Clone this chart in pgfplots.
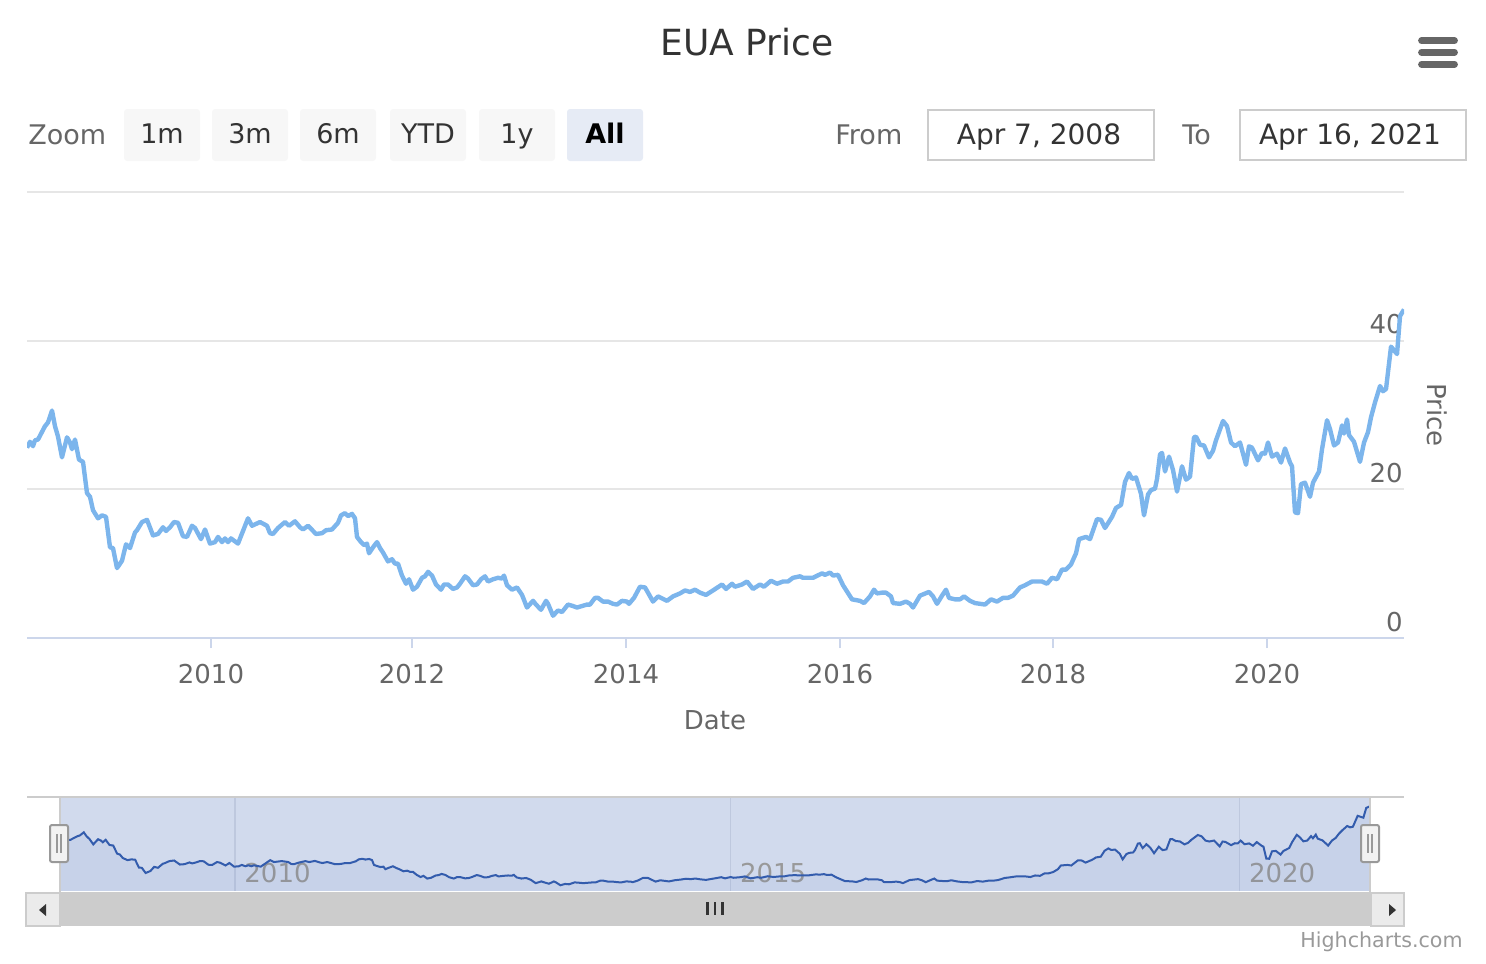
\documentclass[border=0pt]{standalone}
\usepackage{pgfplots}
\pgfplotsset{compat=1.18}
\usepackage{pgfplotstable}
\usepackage{fontspec}
\setmainfont{DejaVu Sans}
\definecolor{hcline}{HTML}{7CB5EC}
\definecolor{hcgrid}{HTML}{E6E6E6}
\definecolor{hcaxis}{HTML}{CCD6EB}
\definecolor{hctext}{HTML}{666666}
\definecolor{hcdark}{HTML}{333333}
\definecolor{navmask}{RGB}{209,218,237}
\definecolor{navline}{HTML}{335CAD}
\definecolor{navgrid}{RGB}{190,200,222}
\definecolor{btn}{HTML}{F7F7F7}
\definecolor{btnsel}{HTML}{E6EBF5}
\definecolor{brd}{HTML}{CCCCCC}
\definecolor{scrollbtn}{HTML}{EBEBEB}
\definecolor{scrolltrack}{HTML}{F2F2F2}
\definecolor{credit}{HTML}{999999}

\pgfplotstableread{
x y
27 25.6
30 26.4
33 25.8
35 26.6
38 26.7
45 28.5
48 29.0
52 30.6
55 28.5
58 27.1
62 24.3
67 27.0
70 26.3
72 25.4
75 26.7
79 24.0
83 23.7
87 19.5
90 19.0
93 17.2
98 16.1
102 16.5
106 16.3
110 12.2
113 12.1
117 9.4
122 10.4
126 12.6
130 12.1
135 14.2
137 14.5
142 15.6
147 15.9
153 13.8
158 14.0
163 14.9
166 14.4
170 14.9
174 15.6
178 15.5
183 13.7
187 13.6
192 15.1
195 14.8
201 13.3
205 14.6
210 12.7
215 12.9
218 13.6
222 12.9
225 13.4
228 12.9
231 13.4
238 12.7
248 16.1
252 15.1
260 15.6
267 15.1
270 14.1
273 14.0
278 14.8
285 15.6
289 15.1
295 15.7
300 14.9
303 14.6
308 15.1
316 14.0
322 14.1
326 14.5
332 14.6
338 15.5
341 16.5
345 16.8
348 16.4
352 16.7
355 16.1
357 13.6
361 12.9
364 12.5
367 12.7
369 11.4
373 12.2
377 12.9
380 12.1
383 11.5
388 10.3
392 10.6
395 10.0
398 10.0
402 8.4
406 7.3
409 7.9
413 6.5
417 6.9
422 8.1
425 8.3
428 8.9
432 8.4
436 7.2
441 6.5
444 7.2
448 7.2
453 6.6
457 6.8
460 7.3
465 8.3
468 8.0
473 7.1
477 7.2
481 7.9
485 8.3
488 7.6
493 7.9
498 8.1
502 8.0
504 8.4
507 7.1
512 6.5
517 6.8
522 5.8
527 4.1
533 5.0
536 4.5
541 3.8
546 5.0
548 4.6
553 3.0
558 3.7
562 3.5
568 4.5
573 4.3
577 4.1
582 4.3
587 4.5
590 4.5
595 5.4
598 5.4
603 4.9
608 4.9
613 4.6
617 4.5
622 5.0
627 4.9
629 4.6
634 5.4
640 6.9
645 6.8
648 6.1
653 4.9
658 5.6
667 5.0
673 5.6
680 6.0
685 6.4
690 6.2
695 6.5
700 6.1
706 5.8
713 6.4
722 7.2
726 6.6
732 7.3
735 6.9
742 7.2
747 7.6
753 6.6
760 7.2
764 6.9
771 7.7
777 7.3
783 7.6
788 7.6
793 8.1
800 8.3
803 8.1
808 8.1
813 8.1
822 8.7
825 8.5
830 8.8
833 8.4
838 8.5
843 7.1
852 5.2
860 5.0
864 4.7
870 5.6
874 6.5
877 6.0
882 6.1
886 6.1
891 5.6
893 4.7
900 4.6
906 4.9
910 4.6
913 4.1
920 5.7
929 6.2
933 5.6
937 4.6
942 5.7
946 6.5
949 5.4
955 5.2
960 5.2
964 5.6
970 5.0
975 4.7
980 4.6
985 4.5
991 5.2
997 4.9
1003 5.4
1008 5.4
1013 5.7
1020 6.8
1025 7.1
1032 7.6
1037 7.6
1042 7.6
1047 7.3
1052 8.1
1055 8.0
1057 7.9
1062 9.2
1066 9.2
1071 9.9
1076 11.4
1079 13.3
1086 13.6
1090 13.3
1097 16.0
1101 15.9
1105 14.8
1112 16.3
1116 17.5
1121 17.9
1125 21.0
1129 22.2
1132 21.4
1136 21.6
1141 19.4
1144 16.5
1148 19.3
1151 19.9
1155 20.1
1157 21.4
1160 24.7
1162 24.9
1165 22.4
1169 24.4
1173 22.6
1177 19.7
1182 23.1
1186 21.3
1190 21.7
1194 27.0
1196 27.1
1200 26.0
1204 25.9
1209 24.3
1213 25.2
1216 26.6
1223 29.2
1227 28.5
1231 26.3
1235 25.8
1240 26.3
1246 23.3
1249 25.8
1252 25.6
1258 23.9
1262 24.9
1265 24.8
1268 26.3
1272 24.4
1277 24.8
1281 23.6
1285 25.5
1290 23.6
1292 23.1
1295 16.9
1298 16.8
1301 20.7
1305 20.9
1310 19.0
1313 20.9
1319 22.4
1322 25.4
1327 29.3
1330 28.1
1334 25.9
1338 26.3
1342 28.6
1344 27.5
1347 29.4
1349 27.3
1354 26.4
1360 23.7
1364 26.3
1368 27.7
1371 29.7
1375 31.7
1380 33.9
1383 33.2
1386 33.5
1391 39.2
1397 38.2
1400 43.3
1404 44.2
}\euadata

\begin{document}
\begin{tikzpicture}[x=0.5pt,y=-0.5pt]
\path (0,0) rectangle (1486,963);
\coordinate (mainSW) at (27,638);
\coordinate (navSW) at (60,891);
% title
\node[anchor=base, inner sep=0pt, font=\fontsize{18}{21}\selectfont, text=hcdark] at (747,56) {EUA Price};
% menu icon
\foreach \yy in {40.7,52.3,64.3}
  \draw[hctext, line width=3.4pt, line cap=round] (1421.5,\yy) -- (1454.5,\yy);
% range selector
\node[anchor=base west, inner sep=0pt, font=\fontsize{13.5}{16}\selectfont, text=hctext] at (28,144) {Zoom};
\foreach \xa/\lab in {124/1m,212/3m,300/6m,390/YTD,479/1y} {
  \fill[btn, rounded corners=1.5pt] (\xa,109) rectangle ++(76,52);
  \node[anchor=base, inner sep=0pt, font=\fontsize{13.5}{16}\selectfont, text=hcdark] at (\xa+38,143.5) {\lab};
}
\fill[btnsel, rounded corners=1.5pt] (567,109) rectangle ++(76,52);
\node[anchor=base, inner sep=0pt, font=\fontsize{13.5}{16}\selectfont\bfseries, text=black] at (605,143.5) {All};
\node[anchor=base west, inner sep=0pt, font=\fontsize{13.5}{16}\selectfont, text=hctext] at (835,144) {From};
\draw[brd, line width=1pt, fill=white] (928,110) rectangle (1154,160);
\node[anchor=base, inner sep=0pt, font=\fontsize{14}{16}\selectfont, text=hcdark] at (1039,144) {Apr 7, 2008};
\node[anchor=base west, inner sep=0pt, font=\fontsize{13.5}{16}\selectfont, text=hctext] at (1182,144) {To};
\draw[brd, line width=1pt, fill=white] (1240,110) rectangle (1466,160);
\node[anchor=base, inner sep=0pt, font=\fontsize{14}{16}\selectfont, text=hcdark] at (1350,144) {Apr 16, 2021};

% main chart
\begin{axis}[at={(mainSW)}, anchor=south west, scale only axis,
  width=688.5pt, height=223pt,
  xmin=27, xmax=1404, ymin=0, ymax=60,
  axis x line*=bottom, axis y line*=right,
  x axis line style={hcaxis, line width=1pt, -},
  y axis line style={draw=none},
  xtick={211,412,626,840,1053,1267},
  xticklabels={2010,2012,2014,2016,2018,2020},
  ytick={0,20,40,60}, yticklabels={0,20,40,{}},
  ymajorgrids, grid style={hcgrid, line width=1pt},
  xtick align=outside, major tick length=5pt,
  x tick style={hcaxis, line width=1pt},
  y tick style={draw=none},
  tick label style={font=\fontsize{13}{15}\selectfont, text=hctext},
  xticklabel style={anchor=base, inner sep=0pt, yshift=-17.5pt},
  yticklabel style={anchor=south east, inner sep=0pt, yshift=3pt, xshift=-0.5pt},
  /pgf/number format/assume math mode=true,
]
\addplot[hcline, line width=2.2pt, line join=round] table[x=x,y=y] {\euadata};
\end{axis}
\node[anchor=base, inner sep=0pt, font=\fontsize{13}{15}\selectfont, text=hctext] at (715,729) {Date};
\node[rotate=-90, inner sep=0pt, font=\fontsize{13}{15}\selectfont, text=hctext] at (1437,415) {Price};

% navigator
\begin{axis}[at={(navSW)}, anchor=south west, scale only axis,
  width=655pt, height=47pt,
  xmin=27, xmax=1404, ymin=0, ymax=49,
  axis line style={draw=none},
  axis background/.style={fill=navmask},
  xtick={211,732,1267}, xticklabels={2010,2015,2020},
  ytick=\empty, xmajorgrids, grid style={navgrid, line width=0.6pt},
  major tick length=0pt,
  xticklabel style={anchor=base west, inner sep=0pt, font=\fontsize{13}{15}\selectfont, text=credit, xshift=4.5pt, yshift=4.5pt},
]
\addplot[fill=navline, fill opacity=0.06, draw=none] table[x=x,y=y] {\euadata} \closedcycle;
\addplot[navline, line width=1pt] table[x=x,y=y] {\euadata};
\end{axis}
\draw[brd, line width=1pt] (27,797) -- (1404,797);
\draw[brd, line width=1pt] (60,797) -- (60,892);
\draw[brd, line width=1pt] (1370,797) -- (1370,892);
% handles
\draw[fill=scrolltrack, draw=credit, line width=1pt, rounded corners=1pt] (50,825) rectangle (68,862);
\draw[credit, line width=0.7pt] (57,834) -- (57,853) (61,834) -- (61,853);
\draw[fill=scrolltrack, draw=credit, line width=1pt, rounded corners=1pt] (1361,825) rectangle (1379,862);
\draw[credit, line width=0.7pt] (1368,834) -- (1368,853) (1372,834) -- (1372,853);
% scrollbar
\fill[scrolltrack] (25,892) rectangle (1404,926);
\fill[brd] (60,892) rectangle (1370,926);
\draw[fill=scrollbtn, draw=brd, line width=1pt] (25.5,892.5) rectangle (59.5,926);
\draw[fill=scrollbtn, draw=brd, line width=1pt] (1370.5,892.5) rectangle (1403.5,926);
\fill[hcdark] (39,910) -- (46,904) -- (46,916) -- cycle;
\fill[hcdark] (1396,910) -- (1389,904) -- (1389,916) -- cycle;
\draw[hcdark, line width=1.2pt] (707.5,902) -- (707.5,915) (715,902) -- (715,915) (722.5,902) -- (722.5,915);
% credits
\node[anchor=base east, inner sep=0pt, font=\fontsize{10.3}{12}\selectfont, text=credit] at (1463,947) {Highcharts.com};
\end{tikzpicture}
\end{document}
